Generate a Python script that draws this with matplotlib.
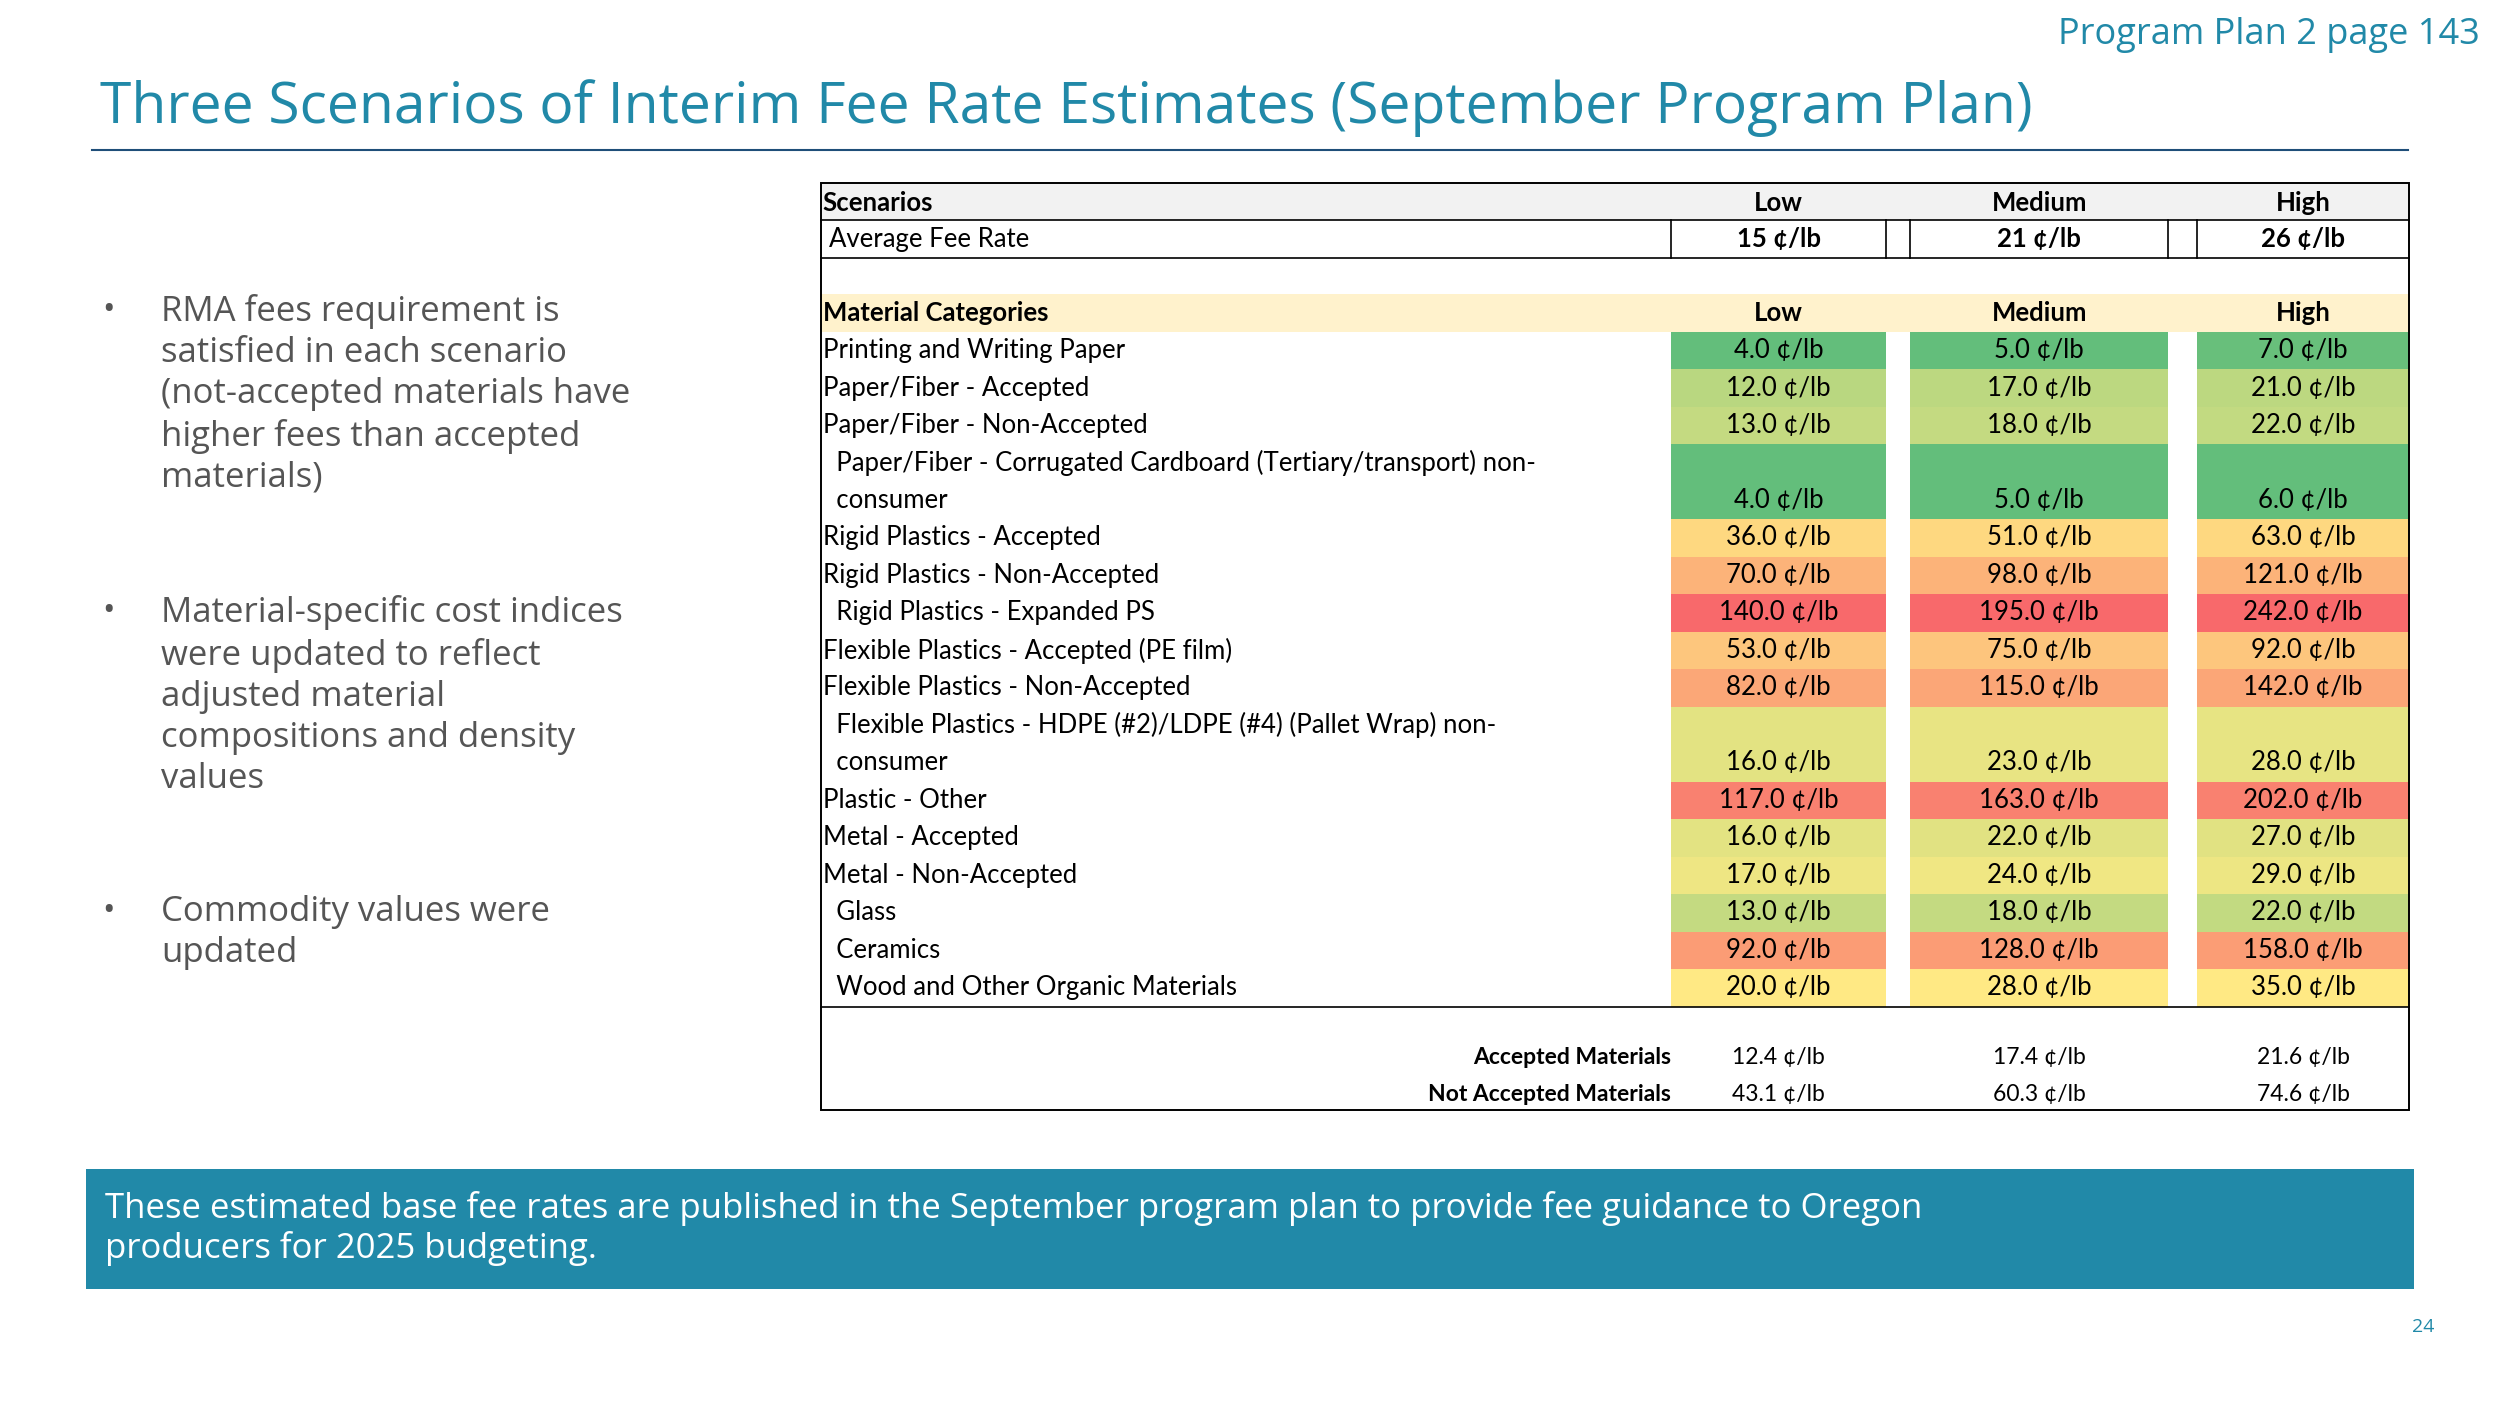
import matplotlib.pyplot as plt
import numpy as np
from matplotlib.patches import Rectangle
from matplotlib.colors import LinearSegmentedColormap

plt.rcParams['font.family'] = ['Open Sans', 'DejaVu Sans']
table_font = ['Lato', 'DejaVu Sans']

scenarios = ['Low', 'Medium', 'High']
avg_fee = ['15 ¢/lb', '21 ¢/lb', '26 ¢/lb']
categories = ['Printing and Writing Paper', 'Paper/Fiber - Accepted', 'Paper/Fiber - Non-Accepted',
              '  Paper/Fiber - Corrugated Cardboard (Tertiary/transport) non-\n  consumer',
              'Rigid Plastics - Accepted', 'Rigid Plastics - Non-Accepted', '  Rigid Plastics - Expanded PS',
              'Flexible Plastics - Accepted (PE film)', 'Flexible Plastics - Non-Accepted',
              '  Flexible Plastics - HDPE (#2)/LDPE (#4) (Pallet Wrap) non-\n  consumer',
              'Plastic - Other', 'Metal - Accepted', 'Metal - Non-Accepted', '  Glass', '  Ceramics',
              '  Wood and Other Organic Materials']
low = [4, 12, 13, 4, 36, 70, 140, 53, 82, 16, 117, 16, 17, 13, 92, 20]
medium = [5, 17, 18, 5, 51, 98, 195, 75, 115, 23, 163, 22, 24, 18, 128, 28]
high = [7, 21, 22, 6, 63, 121, 242, 92, 142, 28, 202, 27, 29, 22, 158, 35]
summary_labels = ['Accepted Materials', 'Not Accepted Materials']
summary_vals = [[12.4, 17.4, 21.6], [43.1, 60.3, 74.6]]

teal = '#2189a8'
fig = plt.figure(figsize=(25, 14.07), dpi=100)
ax = fig.add_axes([0, 0, 1, 1])
ax.set_xlim(0, 1568)
ax.set_ylim(882, 0)
ax.axis('off')

ax.text(1555, 22, 'Program Plan 2 page 143', color=teal, fontsize=26, ha='right', va='center')
ax.text(63, 68, 'Three Scenarios of Interim Fee Rate Estimates (September Program Plan)',
        color=teal, fontsize=41, va='center')
ax.plot([58, 1510], [94, 94], color='#1f4e79', lw=1.5)

bullets = ['RMA fees requirement is\nsatisfied in each scenario\n(not-accepted materials have\nhigher fees than accepted\nmaterials)',
           'Material-specific cost indices\nwere updated to reflect\nadjusted material\ncompositions and density\nvalues',
           'Commodity values were\nupdated']
for by, b in zip([184, 373, 561], bullets):
    ax.text(64, by, '•', fontsize=24, color='#555555', va='top')
    ax.text(101, by, b, fontsize=25, color='#555555', va='top', linespacing=1.28)

# table geometry
L, R = 515, 1511
cols = [(1048, 1183), (1198, 1360), (1378, 1511)]
tf = 18.5

def cell_rect(x0, x1, y0, y1, fc, ec='none'):
    ax.add_patch(Rectangle((x0, y0), x1 - x0, y1 - y0, facecolor=fc, edgecolor=ec, lw=1))

def ttext(x, y, s, **kw):
    ax.text(x, y, s, fontsize=kw.pop('fontsize', tf), family=table_font, **kw)

cell_rect(L, R, 115, 138, '#f2f2f2')
ttext(L + 1, 127, 'Scenarios', fontweight='bold', va='center')
for (x0, x1), s in zip(cols, scenarios):
    ttext((x0 + x1) / 2, 127, s, fontweight='bold', va='center', ha='center')
ax.plot([L, R], [138, 138], color='black', lw=1.2)
ax.plot([L, R], [162, 162], color='black', lw=1.2)
ttext(L + 5, 150, 'Average Fee Rate', va='center')
for (x0, x1), s in zip(cols, avg_fee):
    ax.plot([x0, x0], [138, 162], color='black', lw=1.2)
    ttext((x0 + x1) / 2, 150, s, fontweight='bold', va='center', ha='center')
for x in [1183, 1360]:
    ax.plot([x, x], [138, 162], color='black', lw=1.2)

cell_rect(L, R, 184, 208, '#fff2cc')
ttext(L + 1, 196, 'Material Categories', fontweight='bold', va='center')
for (x0, x1), s in zip(cols, scenarios):
    ttext((x0 + x1) / 2, 196, s, fontweight='bold', va='center', ha='center')

cmap = LinearSegmentedColormap.from_list('rg', ['#63be7b', '#ffeb84', '#f8696b'])
rh = 23.5
y = 208
for i, cat in enumerate(categories):
    two = '\n' in cat
    h = (2 if two else 1) * rh
    if two:
        a, b = cat.split('\n')
        ttext(L + 1, y + rh / 2, a, va='center')
        ttext(L + 1, y + rh * 1.5, b, va='center')
    else:
        ttext(L + 1, y + rh / 2, cat, va='center')
    for (x0, x1), vals in zip(cols, [low, medium, high]):
        v = np.array(vals, float)
        med = np.median(v)
        t = 0.5 * (vals[i] - v.min()) / (med - v.min()) if vals[i] <= med else 0.5 + 0.5 * (vals[i] - med) / (v.max() - med)
        cell_rect(x0, x1, y, y + h, cmap(t))
        ttext((x0 + x1) / 2, y + h - rh / 2, f'{vals[i]:.1f} ¢/lb', va='center', ha='center')
    y += h

ax.plot([L, R], [y, y], color='black', lw=1.2)
ax.add_patch(Rectangle((L, 115), R - L, 696 - 115, facecolor='none', edgecolor='black', lw=1.4))
for k, (lab, vals) in enumerate(zip(summary_labels, summary_vals)):
    sy = 663 + 23 * k
    ttext(1048, sy, lab, fontsize=16.5, fontweight='bold', ha='right', va='center')
    for (x0, x1), v in zip(cols, vals):
        ttext((x0 + x1) / 2, sy, f'{v:.1f} ¢/lb', fontsize=16.5, ha='center', va='center')

cell_rect(54, 1514, 733, 808, teal)
ax.text(66, 770, 'These estimated base fee rates are published in the September program plan to provide fee guidance to Oregon\nproducers for 2025 budgeting.',
        color='white', fontsize=25, va='center', linespacing=1.2)
ax.text(1527, 832, '24', color=teal, fontsize=14, ha='right', va='center')

fig.savefig('out.png')
